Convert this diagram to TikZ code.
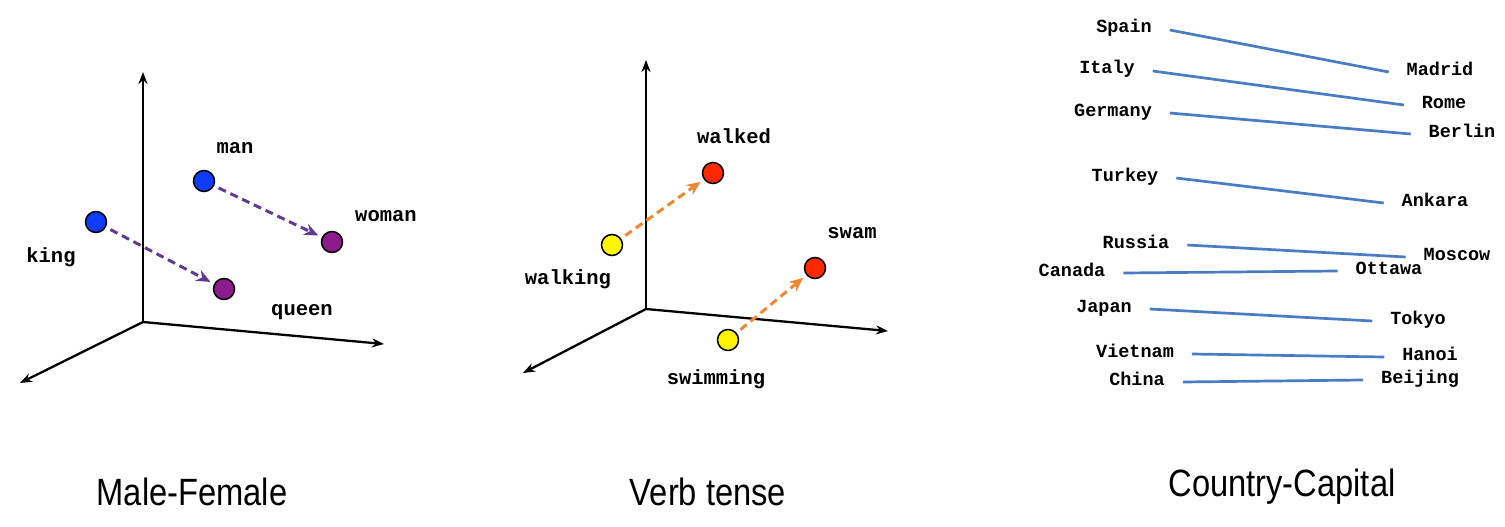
\documentclass[tikz,border=0pt]{standalone}
\usepackage{fontspec}
\setmainfont{Liberation Sans}
\setmonofont{Liberation Mono}
\usetikzlibrary{arrows.meta}
\definecolor{kingblue}{RGB}{15,60,250}
\definecolor{queenpurple}{RGB}{140,28,140}
\definecolor{genderarrow}{RGB}{95,60,145}
\definecolor{nowyellow}{RGB}{255,244,0}
\definecolor{pastred}{RGB}{255,40,0}
\definecolor{tensearrow}{RGB}{240,135,50}
\definecolor{capline}{RGB}{74,124,196}
\tikzset{
  word/.style={anchor=base,inner sep=0pt,font=\ttfamily\bfseries\fontsize{20.5}{20.5}\selectfont},
  city/.style={anchor=base,inner sep=0pt,outer xsep=18pt,text height=.75em,text depth=.15em,
      font=\ttfamily\bfseries\fontsize{18.5}{18.5}\selectfont},
  heading/.style={font=\fontsize{38}{38}\selectfont,xscale=.86,transform shape}
}

\begin{document}
\begin{tikzpicture}[x=1pt,y=-1pt,
    main/.style = {draw,circle,line width=1.5pt,minimum size=21pt,inner sep=0pt},
    axis/.style = {line width=2.3pt,-{Stealth[length=12pt,width=9pt]}},
    shiftarrow/.style = {line width=3pt,dash pattern=on 8pt off 5pt,
        -{Stealth[length=14pt,width=12pt]},shorten <=5pt,shorten >=4pt},
    capital/.style = {line width=2.7pt,capline}]
  \useasboundingbox (0,0) rectangle (1505,527);

  % Male-Female
  \coordinate (o1) at (143,322);
  \coordinate (up1) at (143,72);
  \coordinate (right1) at (384,344);
  \coordinate (left1) at (20,383);
  \path
  (o1) edge[axis] (up1)
  (o1) edge[axis] (right1)
  (o1) edge[axis] (left1);

  \node[main,fill=kingblue] at (96,222) (king){};
  \node[main,fill=kingblue] at (204,181) (man){};
  \node[main,fill=queenpurple] at (332,242) (woman){};
  \node[main,fill=queenpurple] at (224,289) (queen){};
  \node[word] at (235,153) (manlbl){man};
  \node[word] at (386,221) (womanlbl){woman};
  \node[word] at (51,262) (kinglbl){king};
  \node[word] at (302,315) (queenlbl){queen};

  \path
  (king) edge[shiftarrow,genderarrow] (queen)
  (man) edge[shiftarrow,genderarrow] (woman);

  % Verb tense
  \coordinate (o2) at (646,309);
  \coordinate (up2) at (646,60);
  \coordinate (right2) at (888,331);
  \coordinate (left2) at (523,373);
  \path
  (o2) edge[axis] (up2)
  (o2) edge[axis] (right2)
  (o2) edge[axis] (left2);

  \node[main,fill=nowyellow] at (612,245) (walking){};
  \node[main,fill=pastred] at (713,173) (walked){};
  \node[main,fill=nowyellow] at (728,340) (swimming){};
  \node[main,fill=pastred] at (815,268) (swam){};
  \node[word] at (734,143) (walkedlbl){walked};
  \node[word] at (568,284) (walkinglbl){walking};
  \node[word] at (852,238) (swamlbl){swam};
  \node[word] at (716,384) (swimminglbl){swimming};

  \path
  (walking) edge[shiftarrow,tensearrow] (walked)
  (swimming) edge[shiftarrow,tensearrow] (swam);

  % Country-Capital
  \node[city] at (1124,33) (spain){Spain};
  \node[city] at (1107,74) (italy){Italy};
  \node[city] at (1113,116) (germany){Germany};
  \node[city] at (1125,181) (turkey){Turkey};
  \node[city] at (1136,248) (russia){Russia};
  \node[city] at (1072,276) (canada){Canada};
  \node[city] at (1104,312) (japan){Japan};
  \node[city] at (1135,357) (vietnam){Vietnam};
  \node[city] at (1137,385) (china){China};

  \node[city] at (1440,75) (madrid){Madrid};
  \node[city] at (1444,108) (rome){Rome};
  \node[city] at (1462,137) (berlin){Berlin};
  \node[city] at (1435,206) (ankara){Ankara};
  \node[city] at (1457,260) (moscow){Moscow};
  \node[city] at (1389,274) (ottawa){Ottawa};
  \node[city] at (1418,324) (tokyo){Tokyo};
  \node[city] at (1430,360) (hanoi){Hanoi};
  \node[city] at (1420,383) (beijing){Beijing};

  \path
  (spain.east) edge[capital] (madrid.west)
  (italy.east) edge[capital] (rome.west)
  (germany.east) edge[capital] (berlin.west)
  (turkey.east) edge[capital] (ankara.west)
  (russia.east) edge[capital] (moscow.west)
  (canada.east) edge[capital] (ottawa.west)
  (japan.east) edge[capital] (tokyo.west)
  (vietnam.east) edge[capital] (hanoi.west)
  (china.east) edge[capital] (beijing.west);

  % titles
  \node[heading] at (192,492) (malefemale){Male-Female};
  \node[heading] at (708,492) (verbtense){Verb tense};
  \node[heading] at (1282,487) (countrycapital){Country-Capital};
\end{tikzpicture}
\end{document}
